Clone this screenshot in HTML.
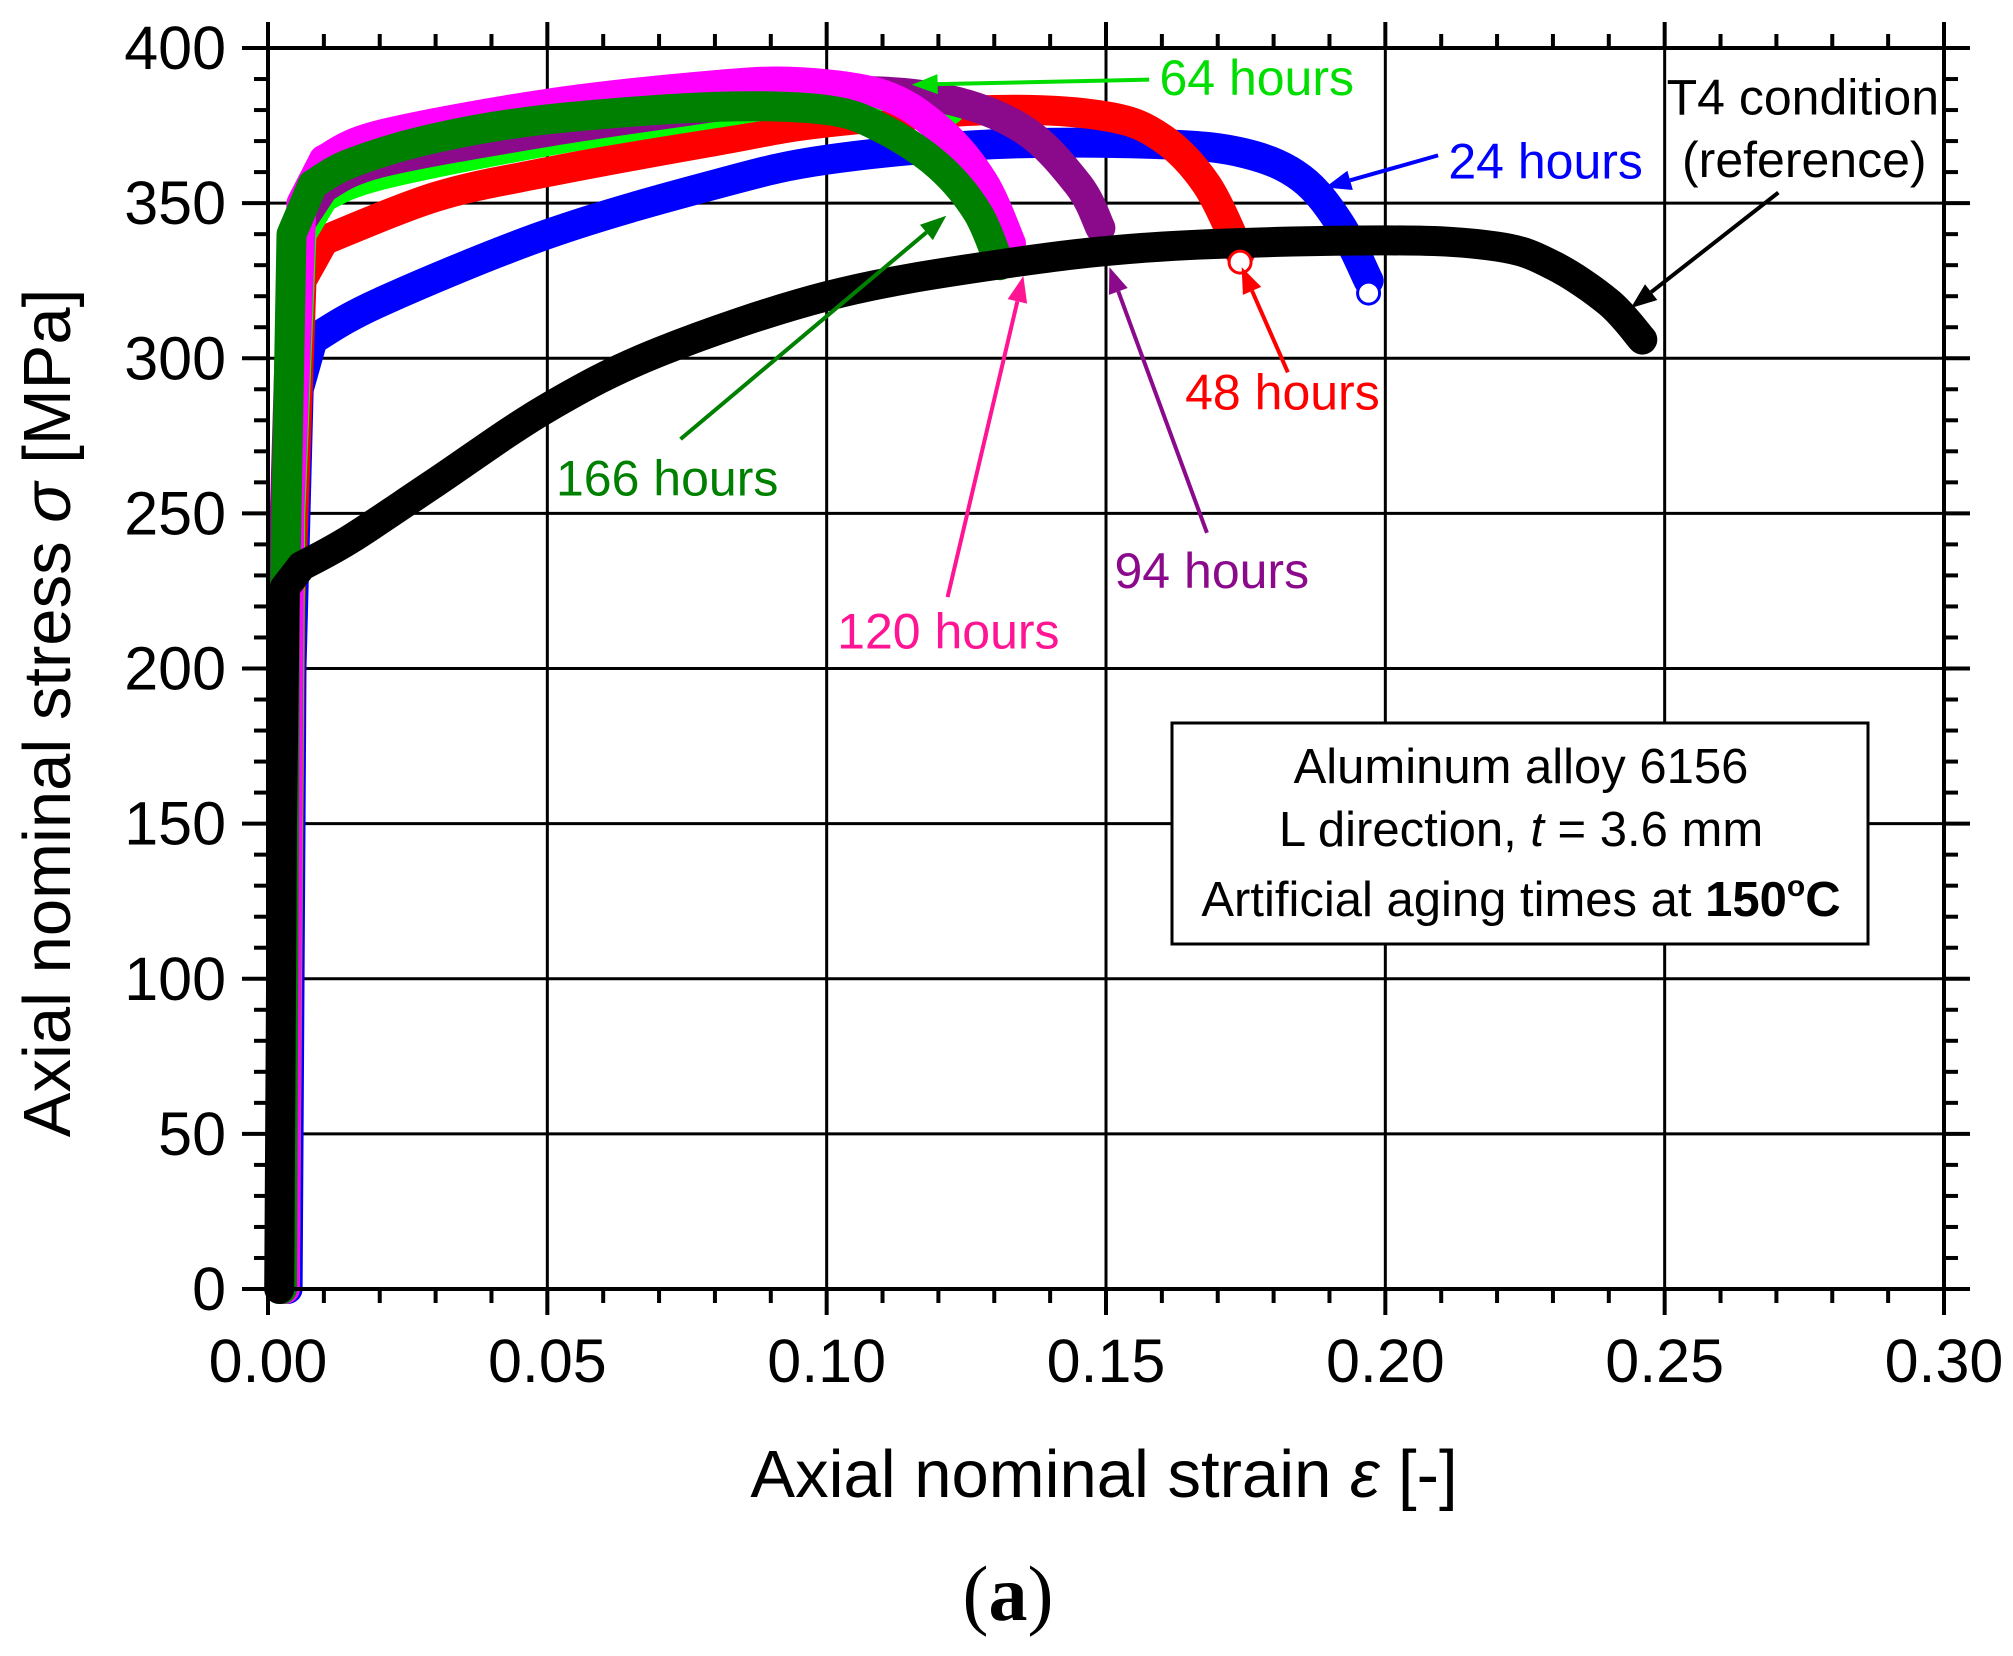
<!DOCTYPE html>
<html><head><meta charset="utf-8"><style>
html,body{margin:0;padding:0;background:#fff;}
svg{display:block;}
text{font-family:"Liberation Sans",sans-serif;}
</style></head><body>
<svg id="s" width="2013" height="1656" viewBox="0 0 2013 1656" xmlns="http://www.w3.org/2000/svg"></svg>
<script>
const S=document.getElementById('s');
const X0=268,X1=1944,Y0=1289,Y1=48;
const fx=v=>X0+(X1-X0)*v/0.3, fy=v=>Y0+(Y1-Y0)*v/400;
let h='';
for(let i=1;i<6;i++){const x=fx(i*0.05);h+=`<line x1="${x}" y1="${Y1}" x2="${x}" y2="${Y0}" stroke="#000" stroke-width="3"/>`;}
for(let i=1;i<8;i++){const y=fy(i*50);h+=`<line x1="${X0}" y1="${y}" x2="${X1}" y2="${y}" stroke="#000" stroke-width="3"/>`;}
function smooth(P){
 let d='M'+P[0][0].toFixed(1)+','+P[0][1].toFixed(1);
 for(let i=0;i<P.length-1;i++){
  const p0=P[i-1]||P[i],p1=P[i],p2=P[i+1],p3=P[i+2]||P[i+1];
  const c1=[p1[0]+(p2[0]-p0[0])/6,p1[1]+(p2[1]-p0[1])/6];
  const c2=[p2[0]-(p3[0]-p1[0])/6,p2[1]-(p3[1]-p1[1])/6];
  d+=` C${c1[0].toFixed(1)},${c1[1].toFixed(1)} ${c2[0].toFixed(1)},${c2[1].toFixed(1)} ${p2[0].toFixed(1)},${p2[1].toFixed(1)}`;
 }
 return d;}
function curve(el,pl,col,w){
 const E=el.map(p=>fx(p[0]).toFixed(1)+','+fy(p[1]).toFixed(1)).join(' ');
 const P=pl.map(p=>[fx(p[0]),fy(p[1])]);
 return `<polyline points="${E}" fill="none" stroke="${col}" stroke-width="${w}" stroke-linejoin="round" stroke-linecap="round"/><path d="${smooth(P)}" fill="none" stroke="${col}" stroke-width="${w}" stroke-linejoin="round" stroke-linecap="round"/>`;}
h+=curve([[0.0035,0],[0.0042,200],[0.0055,290],[0.008,306]],[[0.008,306],[0.02,318],[0.05,340],[0.08,356],[0.1,364],[0.13,369],[0.16,369],[0.175,366],[0.185,358],[0.192,343],[0.197,325]],'#0000ff',30);
h+=curve([[0.003,0],[0.004,220],[0.006,325],[0.01,338]],[[0.01,338],[0.03,352],[0.05,360],[0.08,370],[0.1,376],[0.13,380],[0.15,378],[0.16,371],[0.168,356],[0.174,334]],'#ff0000',30);
h+=curve([[0.003,0],[0.004,250],[0.006,340],[0.01,352]],[[0.01,352],[0.02,359],[0.05,370],[0.08,379],[0.1,384],[0.115,384],[0.122,380]],'#00ff00',30);
h+=curve([[0.0025,0],[0.003,250],[0.0045,340],[0.01,355]],[[0.01,355],[0.02,363],[0.05,373],[0.08,381],[0.1,386],[0.12,384],[0.135,374],[0.145,356],[0.149,342]],'#8b0a8b',30);
h+=curve([[0.003,0],[0.0038,250],[0.006,350],[0.01,364]],[[0.01,364],[0.02,372],[0.05,382],[0.08,388],[0.095,389],[0.11,385],[0.12,374],[0.128,357],[0.133,337]],'#ff00ff',30);
h+=curve([[0.0025,0],[0.003,220],[0.0042,340],[0.008,356]],[[0.008,356],[0.015,363],[0.03,371],[0.05,377],[0.08,381],[0.1,380],[0.11,374],[0.12,362],[0.127,347],[0.131,330]],'#008000',30);
h+=curve([[0.002,0],[0.0025,150],[0.003,226],[0.006,233]],[[0.006,233],[0.015,242],[0.03,260],[0.05,284],[0.07,302],[0.1,320],[0.13,330],[0.16,336],[0.2,338],[0.22,336],[0.23,330],[0.24,318],[0.246,306]],'#000',30);
h+=`<circle cx="${fx(0.197)}" cy="${fy(321)}" r="11" fill="#fff" stroke="#0000ff" stroke-width="3"/>`;
h+=`<circle cx="${fx(0.174)}" cy="${fy(331)}" r="11" fill="#fff" stroke="#ff0000" stroke-width="3"/>`;
h+=`<rect x="${X0}" y="${Y1}" width="${X1-X0}" height="${Y0-Y1}" fill="none" stroke="#000" stroke-width="4"/>`;
for(let i=0;i<=30;i++){const x=fx(i*0.01),M=i%5==0,L=M?26:14;
 h+=`<line x1="${x}" y1="${Y0}" x2="${x}" y2="${Y0+L}" stroke="#000" stroke-width="4"/><line x1="${x}" y1="${Y1}" x2="${x}" y2="${Y1-L}" stroke="#000" stroke-width="4"/>`;}
for(let i=0;i<=40;i++){const y=fy(i*10),M=i%5==0,L=M?26:14;
 h+=`<line x1="${X0}" y1="${y}" x2="${X0-L}" y2="${y}" stroke="#000" stroke-width="4"/><line x1="${X1}" y1="${y}" x2="${X1+L}" y2="${y}" stroke="#000" stroke-width="4"/>`;}
for(let i=0;i<=6;i++){h+=`<text x="${fx(i*0.05)}" y="1382" font-size="61" text-anchor="middle">${(i*0.05).toFixed(2)}</text>`;}
for(let i=0;i<=8;i++){h+=`<text x="226" y="${fy(i*50)+21}" font-size="61" text-anchor="end">${i*50}</text>`;}
h+=`<text x="1104" y="1497" font-size="67" text-anchor="middle">Axial nominal strain <tspan font-style="italic">ε</tspan> [-]</text>`;
h+=`<text transform="translate(70,713) rotate(-90)" font-size="67" text-anchor="middle">Axial nominal stress <tspan font-style="italic">σ</tspan> [MPa]</text>`;
h+=`<text x="1008" y="1620" font-size="78" text-anchor="middle" style="font-family:'Liberation Serif',serif">(<tspan font-weight="bold">a</tspan>)</text>`;
function arr(x1,y1,x2,y2,c){const a=Math.atan2(y2-y1,x2-x1),L=26,W=10;
 const bx=x2-L*Math.cos(a),by=y2-L*Math.sin(a);
 const p1=[bx+W*Math.sin(a),by-W*Math.cos(a)],p2=[bx-W*Math.sin(a),by+W*Math.cos(a)];
 return `<line x1="${x1}" y1="${y1}" x2="${bx}" y2="${by}" stroke="${c}" stroke-width="4"/><polygon points="${x2},${y2} ${p1} ${p2}" fill="${c}"/>`;}
const k=1.284;
function lab(t,x,y,c){return `<text x="${x*k}" y="${y*k}" font-size="50" fill="${c}">${t}</text>`;}
h+=lab('64 hours',903,74,'#00dd00')+arr(895*k,62*k,710*k,66*k,'#00dd00');
h+=lab('24 hours',1128,139,'#0000ff')+arr(1120*k,121*k,1032*k,146*k,'#0000ff');
h+=lab('T4 condition',1298,89,'#000')+lab('(reference)',1310,138,'#000')+arr(1385*k,150*k,1270*k,240*k,'#000');
h+=lab('48 hours',923,319,'#ff0000')+arr(1003*k,290*k,967*k,208*k,'#ff0000');
h+=lab('94 hours',868,458,'#8b0a8b')+arr(940*k,415*k,864*k,208*k,'#8b0a8b');
h+=lab('120 hours',652,505,'#ff1493')+arr(738*k,465*k,797*k,215*k,'#ff1493');
h+=lab('166 hours',433,386,'#008000')+arr(530*k,342*k,737*k,168*k,'#008000');
h+=`<rect x="1172" y="723" width="696" height="221" fill="#fff" stroke="#000" stroke-width="3"/>`;
h+=`<text x="1521" y="783" font-size="49" text-anchor="middle">Aluminum alloy 6156</text>`;
h+=`<text x="1521" y="846" font-size="49" text-anchor="middle">L direction, <tspan font-style="italic">t</tspan> = 3.6 mm</text>`;
h+=`<text x="1521" y="916" font-size="49" text-anchor="middle">Artificial aging times at <tspan font-weight="bold">150<tspan font-size="30" dy="-20">o</tspan><tspan dy="20">C</tspan></tspan></text>`;
S.innerHTML=h;
</script>
</body></html>
